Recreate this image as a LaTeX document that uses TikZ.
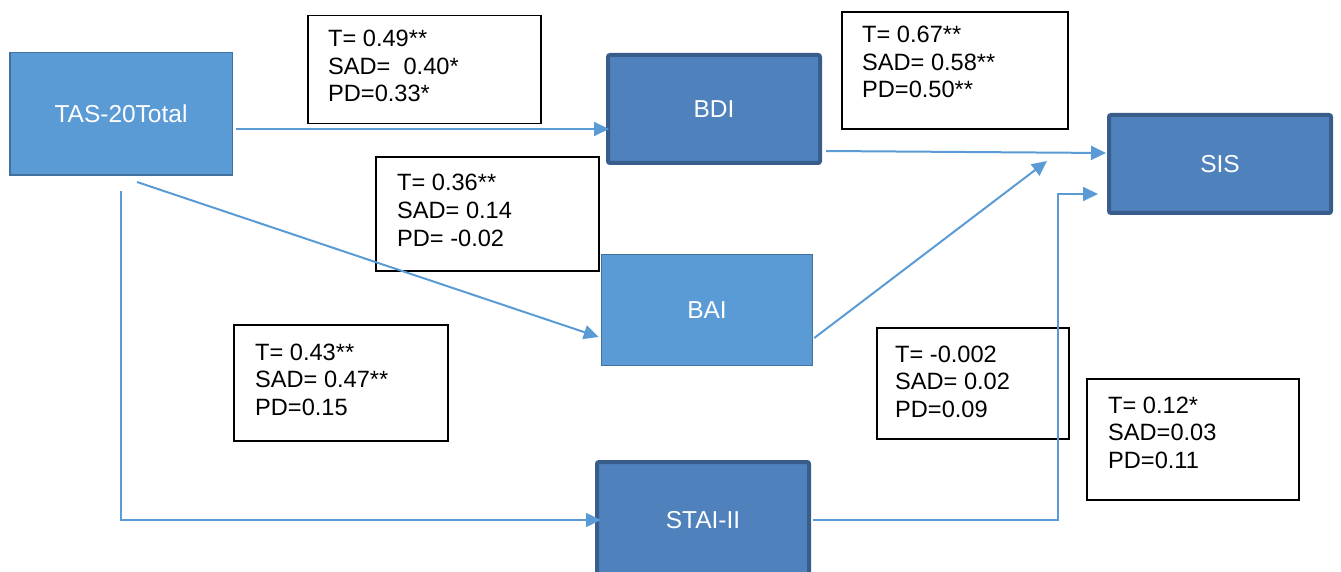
\documentclass[tikz,border=0pt]{standalone}
\usepackage{fontspec}
\setmainfont{Liberation Sans}
\usetikzlibrary{arrows.meta,calc}
\definecolor{lightfill}{HTML}{5B9BD5}
\definecolor{lightedge}{HTML}{41719C}
\definecolor{darkfill}{HTML}{4F81BD}
\definecolor{darkedge}{HTML}{385D8A}
\definecolor{conncol}{HTML}{5B9BD5}
\tikzset{
  lightbox/.style={draw=lightedge, fill=lightfill, line width=1.5pt, text=white,
    font=\fontsize{24.5}{29}\selectfont, inner sep=0pt},
  darkbox/.style={draw=darkedge, fill=darkfill, line width=4pt, rounded corners=2pt,
    text=white, font=\fontsize{24.5}{29}\selectfont, inner sep=0pt},
  coefbox/.style={draw=black, line width=1.3pt, fill=white, inner sep=0pt},
  coeftext/.style={align=left, font=\fontsize{23.6}{27.5}\selectfont, inner sep=0pt, anchor=base west},
  conn/.style={draw=conncol, line width=2pt, -{Triangle[length=15pt,width=14pt]}},
}
\begin{document}
\begin{tikzpicture}[x=1pt,y=-1pt]
\useasboundingbox (0,0) rectangle (1341,572);
% variable boxes
\node[lightbox, minimum width=222.5pt, minimum height=122.5pt] (tas) at (121,114) {TAS-20Total};
\node[darkbox, minimum width=212pt, minimum height=108pt] (bdi) at (714,109) {BDI};
\node[darkbox, minimum width=222pt, minimum height=98pt] (sis) at (1220,164) {SIS};
\node[lightbox, minimum width=211pt, minimum height=111pt] (bai) at (707,310) {BAI};
\node[darkbox, minimum width=212pt, minimum height=116pt] (stai) at (703,520) {STAI-II};
% coefficient boxes
\node[coefbox, minimum width=233pt, minimum height=108pt] (c1) at (424.5,69.5) {};
\node[coeftext] (c1t) at (328,102) {T= 0.49**\\SAD=\ \ 0.40*\\PD=0.33*};
\node[coefbox, minimum width=226pt, minimum height=117pt] (c2) at (955,70.5) {};
\node[coeftext] (c2t) at (862,98) {T= 0.67**\\SAD= 0.58**\\PD=0.50**};
\node[coefbox, minimum width=223pt, minimum height=114pt] (c3) at (487.5,214) {};
\node[coeftext] (c3t) at (397,246) {T= 0.36**\\SAD= 0.14\\PD= -0.02};
\node[coefbox, minimum width=214pt, minimum height=116pt] (c4) at (341,383) {};
\node[coeftext] (c4t) at (255,415) {T= 0.43**\\SAD= 0.47**\\PD=0.15};
\node[coefbox, minimum width=192pt, minimum height=111pt] (c5) at (973,383.5) {};
\node[coeftext] (c5t) at (895,417) {T= -0.002\\SAD= 0.02\\PD=0.09};
\node[coefbox, minimum width=212pt, minimum height=121pt] (c6) at (1193,439.5) {};
\node[coeftext] (c6t) at (1108,468) {T= 0.12*\\SAD=0.03\\PD=0.11};
% connectors
\coordinate (baiend) at (1047,161);
\coordinate (sx) at (1058,194);
\draw[conn] ([xshift=3pt,yshift=-15pt]tas.east) -- ([xshift=3pt,yshift=-20pt]bdi.west);
\draw[conn] ([xshift=16pt,yshift=-6pt]tas.south) -- ([xshift=-2pt,yshift=-27pt]bai.west);
\draw[conn, line width=1.6pt] ([yshift=-15pt]tas.south) |- ([xshift=6pt]stai.west);
\draw[conn] ([xshift=4pt,yshift=-42pt]bdi.east) -- ([xshift=-1pt,yshift=11pt]sis.west);
\draw[conn] ([xshift=1pt,yshift=-28pt]bai.east) -- (baiend);
\draw[conn] ([xshift=2pt]stai.east) -| (sx) -- ([xshift=-9pt,yshift=-30pt]sis.west);
\end{tikzpicture}
\end{document}
